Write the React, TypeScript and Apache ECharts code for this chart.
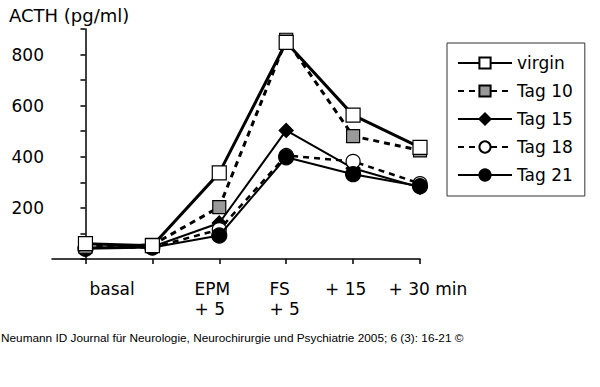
import React, { useEffect, useRef } from "react";
import * as echarts from "echarts";

const xPositions = [0, 1, 2, 3, 4, 5];
const xLabelTexts = ["basal", "EPM\n+ 5", "FS\n+ 5", "+ 15", "+ 30 min"];
const xLabelPositions = [0.06, 1.63, 2.75, 3.58, 4.53];
const yLabelValues = [200, 400, 600, 800];

const seriesNames = ["virgin", "Tag 10", "Tag 15", "Tag 18", "Tag 21"];
const virgin = [60, 52, 337, 848, 563, 437];
const tag10 = [48, 55, 203, 858, 481, 425];
const tag15 = [45, 48, 141, 503, 355, 280];
const tag18 = [45, 45, 115, 405, 382, 295];
const tag21 = [40, 45, 92, 398, 332, 285];

const FONT = "DejaVu Sans";

export default function App() {
  const ref = useRef<HTMLDivElement>(null);
  useEffect(() => {
    if (!ref.current) return;
    const chart = echarts.init(ref.current, undefined, { renderer: "svg" });
    const pts = (arr: number[]) => arr.map((v, i) => [xPositions[i], v]);
    const mk = (
      name: string,
      data: number[],
      symbol: string,
      symbolSize: number,
      fill: string,
      width: number,
      dashed: boolean,
      z: number
    ) => ({
      name,
      type: "line",
      data: pts(data),
      symbol,
      symbolSize,
      z,
      itemStyle: { color: fill, borderColor: "#000", borderWidth: 1.2 },
      lineStyle: { color: "#000", width, type: dashed ? [6, 5] : "solid" },
      emphasis: { disabled: true },
    });
    const labelFor = (v: number) => {
      let best = -1;
      let bestD = 1e9;
      xLabelPositions.forEach((p, i) => {
        const d = Math.abs(p - v);
        if (d < bestD) {
          bestD = d;
          best = i;
        }
      });
      return bestD < 0.02 ? xLabelTexts[best] : "";
    };
    chart.setOption({
      animation: false,
      backgroundColor: "#fff",
      textStyle: { fontFamily: FONT },
      title: {
        text: "ACTH (pg/ml)",
        left: 9,
        top: 6,
        padding: 0,
        textStyle: { fontFamily: FONT, fontSize: 18, fontWeight: "normal", color: "#000" },
      },
      legend: {
        orient: "vertical",
        left: 447,
        top: 43,
        padding: [10, 12, 11, 10],
        itemWidth: 54,
        itemHeight: 14,
        itemGap: 8,
        borderColor: "#333",
        borderWidth: 1,
        data: seriesNames,
        textStyle: { fontFamily: FONT, fontSize: 17, color: "#000", lineHeight: 20 },
      },
      grid: { left: 52, right: 180, top: 29, bottom: 128 },
      xAxis: {
        type: "value",
        min: -0.5,
        max: 5,
        splitLine: { show: false },
        axisLine: { lineStyle: { color: "#000", width: 1.5 } },
        axisTick: {
          customValues: xPositions,
          length: 5,
          lineStyle: { color: "#000", width: 1.5 },
        },
        axisLabel: {
          show: true,
          customValues: xLabelPositions,
          hideOverlap: false,
          showMinLabel: true,
          showMaxLabel: true,
          formatter: (v: number) => labelFor(v),
          align: "left",
          verticalAlign: "top",
          margin: 20,
          fontFamily: FONT,
          fontSize: 17,
          lineHeight: 20,
          color: "#000",
        },
      },
      yAxis: {
        type: "value",
        min: 0,
        max: 900,
        interval: 100,
        splitLine: { show: false },
        axisLine: { show: true, lineStyle: { color: "#000", width: 1.5 } },
        axisTick: { show: true, length: 5, lineStyle: { color: "#000", width: 1.5 } },
        axisLabel: {
          customValues: yLabelValues,
          margin: 8,
          fontFamily: FONT,
          fontSize: 17,
          color: "#000",
        },
      },
      series: [
        mk("virgin", virgin, "rect", 14, "#fff", 3, false, 10),
        mk("Tag 10", tag10, "rect", 13, "#999", 3, true, 9),
        mk("Tag 15", tag15, "diamond", 14, "#000", 2, false, 6),
        mk("Tag 18", tag18, "circle", 14, "#fff", 2.5, true, 7),
        mk("Tag 21", tag21, "circle", 15, "#000", 2, false, 8),
      ],
      graphic: [
        {
          type: "text",
          left: 1,
          top: 332,
          style: {
            text: "Neumann ID Journal für Neurologie, Neurochirurgie und Psychiatrie 2005; 6 (3): 16-21 ©",
            fontFamily: "Liberation Sans",
            fontSize: 11.8,
            fill: "#000",
          },
        },
      ],
    });
    return () => chart.dispose();
  }, []);
  return <div ref={ref} style={{ width: 600, height: 387, position: "absolute", left: 0, top: 0 }} />;
}
